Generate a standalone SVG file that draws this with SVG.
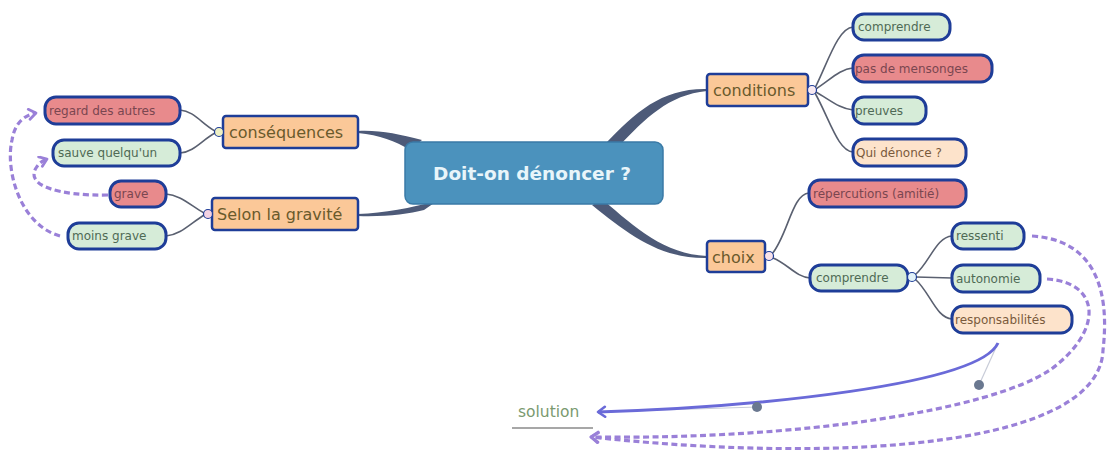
<svg xmlns="http://www.w3.org/2000/svg" width="1115" height="450" viewBox="0 0 1115 450">
<defs>
<marker id="chev" markerUnits="userSpaceOnUse" markerWidth="14" markerHeight="14" refX="9" refY="6" orient="auto">
<path d="M2,1 L9,6 L2,11" fill="none" stroke="#9a80d8" stroke-width="2.8" stroke-linecap="round" stroke-linejoin="round"/>
</marker>
<marker id="chevb" markerUnits="userSpaceOnUse" markerWidth="14" markerHeight="14" refX="9" refY="6" orient="auto">
<path d="M2,1 L9,6 L2,11" fill="none" stroke="#6a6ad8" stroke-width="2.6" stroke-linecap="round" stroke-linejoin="round"/>
</marker>
</defs>
<style>
text{font-family:"DejaVu Sans","Liberation Sans",sans-serif;}
.leaf{stroke:#1e3d98;stroke-width:3;}
.red{fill:#e88a8c;}
.grn{fill:#d6ecd8;}
.pch{fill:#fde3cb;}
.br{fill:#fbc898;stroke:#1e3d98;stroke-width:2.5;}
.lt{font-size:12px;}
.tr{fill:#7a4650;}
.tg{fill:#4f6a55;}
.tp{fill:#7a5a3c;}
.bt{font-size:16px;fill:#6a5a2c;}
.sub{fill:none;stroke:#5a6070;stroke-width:1.6;}
.main{fill:#4d5a78;}
.dot{stroke:#1e3d98;stroke-width:1.2;}
.dash{fill:none;stroke:#9a80d8;stroke-width:3.2;stroke-dasharray:6 3.5;}
</style>
<g id="connectors">
<path class="main" d="M606,143 C636,112 662,88 707,89 L707,91 C668,95 646,118 618,147 Z"/>
<path class="main" d="M592,205 C628,234 660,259 707,258 L707,256 C664,254 636,228 603,200 Z"/>
<path class="main" d="M422,140 C398,134 380,130 358,131 L358,133 C380,135 395,141 410,150 Z"/>
<path class="main" d="M437,201 C410,208 385,213 358,214 L358,216 C385,217 408,214 424,210 Z"/>
<path class="sub" d="M215,131 C202,124 194,111 180,110"/>
<path class="sub" d="M215,133 C202,140 194,152 180,153"/>
<path class="sub" d="M204,213 C190,205 180,195 166,194"/>
<path class="sub" d="M204,215 C190,224 180,235 166,236"/>
<path class="sub" d="M815,88 C828,62 838,28 853,27"/>
<path class="sub" d="M816,89 C830,80 840,69 853,68"/>
<path class="sub" d="M816,92 C830,100 840,109 853,110"/>
<path class="sub" d="M815,93 C830,120 838,151 853,152"/>
<path class="sub" d="M772,254 C788,235 792,194 809,193"/>
<path class="sub" d="M773,258 C788,264 796,277 810,278"/>
<path class="sub" d="M915,275 C930,262 936,237 952,236"/>
<path class="sub" d="M916,277 L952,278"/>
<path class="sub" d="M915,279 C930,292 936,318 952,319"/>
<path class="dash" d="M108,195 C60,196 25,186 36,168 C39,163 42,161 47,159" marker-end="url(#chev)"/>
<path class="dash" d="M60,236 C20,225 5,170 12,140 C15,122 25,115 36,113" marker-end="url(#chev)"/>
<path class="dash" d="M1047,279 C1100,282 1105,330 1050,370 C990,410 800,440 591,437" marker-end="url(#chev)"/>
<path class="dash" d="M1032,236 C1095,240 1110,290 1103,350 C1100,445 850,465 591,437" marker-end="url(#chev)"/>
<line x1="998" y1="343" x2="979" y2="385" stroke="#c8ccd8" stroke-width="1.2"/>
<line x1="600" y1="412" x2="757" y2="407" stroke="#c8ccd8" stroke-width="1.2"/>
<path d="M998,343 C979,385 757,407 598,412" fill="none" stroke="#6a6ad8" stroke-width="3" marker-end="url(#chevb)"/>
<circle cx="979" cy="385" r="5" fill="#6a7890"/>
<circle cx="757" cy="407" r="5" fill="#6a7890"/>
</g>
<g id="center">
<rect x="405" y="142" width="258" height="62" rx="8" fill="#4b92bd" stroke="#3a7aa6" stroke-width="1.5"/>
<text x="532" y="180" text-anchor="middle" font-size="18.5" font-weight="bold" fill="#e8f5fa">Doit-on dénoncer ?</text>
</g>
<g id="consequences">
<rect class="br" x="223" y="116" width="135" height="32" rx="3"/>
<text class="bt" x="229" y="138">conséquences</text>
<circle class="dot" cx="219" cy="132" r="4.5" fill="#eef0c4"/>
</g>
<g id="gravite">
<rect class="br" x="212" y="198" width="146" height="32" rx="3"/>
<text class="bt" x="217" y="220">Selon la gravité</text>
<circle class="dot" cx="208" cy="214" r="4.5" fill="#f3d2e2"/>
</g>
<g id="regard"><rect class="leaf red" x="45" y="97" width="135" height="27" rx="11"/><text class="lt tr" x="49" y="115">regard des autres</text></g>
<g id="sauve"><rect class="leaf grn" x="53" y="140" width="127" height="26" rx="11"/><text class="lt tg" x="58" y="157">sauve quelqu'un</text></g>
<g id="grave"><rect class="leaf red" x="110" y="181" width="56" height="26" rx="11"/><text class="lt tr" x="114" y="198">grave</text></g>
<g id="moinsgrave"><rect class="leaf grn" x="68" y="223" width="98" height="26" rx="11"/><text class="lt tg" x="72" y="240">moins grave</text></g>
<g id="conditions">
<rect class="br" x="707" y="74" width="101" height="32" rx="3"/>
<text class="bt" x="713" y="96">conditions</text>
<circle class="dot" cx="812" cy="90" r="4.5" fill="#f8eaf2"/>
</g>
<g id="comprendre1"><rect class="leaf grn" x="853" y="14" width="97" height="26" rx="11"/><text class="lt tg" x="858" y="31">comprendre</text></g>
<g id="mensonges"><rect class="leaf red" x="853" y="55" width="139" height="27" rx="11"/><text class="lt tr" x="855" y="73">pas de mensonges</text></g>
<g id="preuves"><rect class="leaf grn" x="853" y="97" width="73" height="27" rx="11"/><text class="lt tg" x="855" y="115">preuves</text></g>
<g id="quidenonce"><rect class="leaf pch" x="853" y="139" width="113" height="27" rx="11"/><text class="lt tp" x="856" y="157">Qui dénonce ?</text></g>
<g id="choix">
<rect class="br" x="707" y="241" width="58" height="31" rx="3"/>
<text class="bt" x="712" y="263">choix</text>
<circle class="dot" cx="769" cy="256" r="4.5" fill="#f8e2ea"/>
</g>
<g id="repercutions"><rect class="leaf red" x="809" y="180" width="157" height="27" rx="11"/><text class="lt tr" x="813" y="198">répercutions (amitié)</text></g>
<g id="comprendre2">
<rect class="leaf grn" x="810" y="265" width="98" height="26" rx="11"/><text class="lt tg" x="816" y="282">comprendre</text>
<circle class="dot" cx="912" cy="277" r="4.5" fill="#e2f2f8"/>
</g>
<g id="ressenti"><rect class="leaf grn" x="952" y="223" width="72" height="26" rx="11"/><text class="lt tg" x="956" y="240">ressenti</text></g>
<g id="autonomie"><rect class="leaf grn" x="952" y="265" width="88" height="27" rx="11"/><text class="lt tg" x="956" y="283">autonomie</text></g>
<g id="responsabilites"><rect class="leaf pch" x="952" y="306" width="120" height="27" rx="11"/><text class="lt tp" x="955" y="324">responsabilités</text></g>
<g id="solution">
<text x="518" y="417" font-size="15.5" fill="#7a9a70">solution</text>
<line x1="512" y1="428" x2="593" y2="428" stroke="#8a8a8a" stroke-width="1.5"/>
</g>
</svg>
